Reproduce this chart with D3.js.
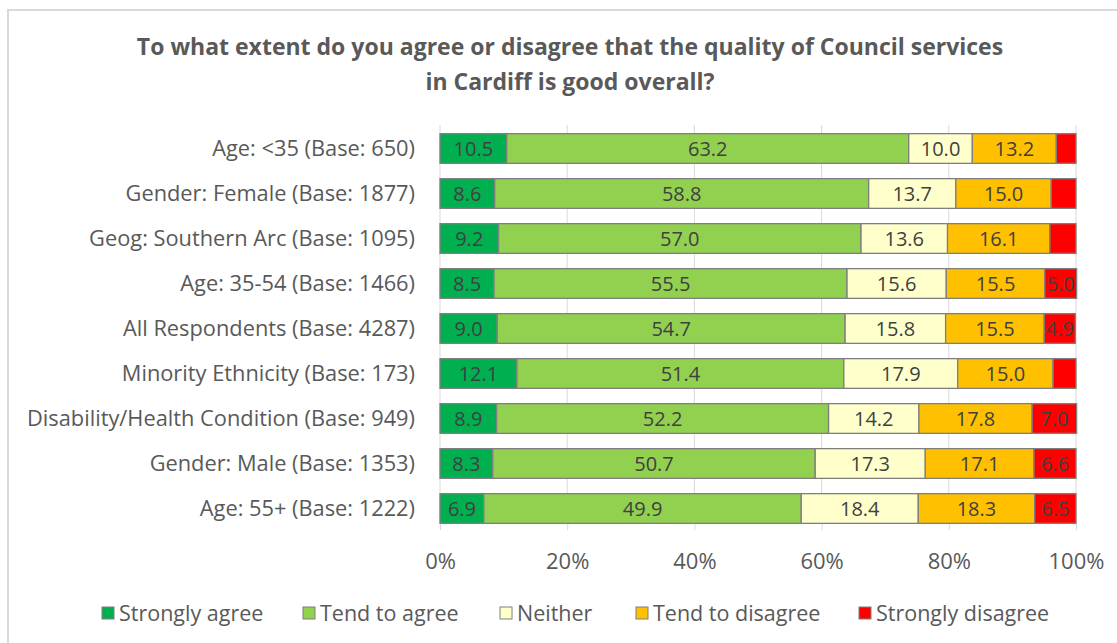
<!DOCTYPE html>
<html>
<head>
<meta charset="utf-8">
<script src="https://cdn.jsdelivr.net/npm/d3@7"></script>
<style>
  body { margin: 0; background: #fff; }
  text { font-family: "Open Sans", "Noto Sans", sans-serif; }
</style>
</head>
<body>
<div id="chart"></div>
<script>
// data
var groups = ["Age: <35 (Base: 650)", "Gender: Female (Base: 1877)", "Geog: Southern Arc (Base: 1095)",
  "Age: 35-54 (Base: 1466)", "All Respondents (Base: 4287)", "Minority Ethnicity (Base: 173)",
  "Disability/Health Condition (Base: 949)", "Gender: Male (Base: 1353)", "Age: 55+ (Base: 1222)"];
var seriesNames = ["Strongly agree", "Tend to agree", "Neither", "Tend to disagree", "Strongly disagree"];
var stronglyAgree    = [10.5, 8.6, 9.2, 8.5, 9.0, 12.1, 8.9, 8.3, 6.9];
var tendToAgree      = [63.2, 58.8, 57.0, 55.5, 54.7, 51.4, 52.2, 50.7, 49.9];
var neither          = [10.0, 13.7, 13.6, 15.6, 15.8, 17.9, 14.2, 17.3, 18.4];
var tendToDisagree   = [13.2, 15.0, 16.1, 15.5, 15.5, 15.0, 17.8, 17.1, 18.3];
var stronglyDisagree = [3.1, 3.9, 4.1, 5.0, 4.9, 3.6, 7.0, 6.6, 6.5];
var xTicks = [0, 20, 40, 60, 80, 100];
var colors = ["#00B050", "#92D050", "#FFFFCC", "#FFC000", "#FF0000"];

var W = 1117, H = 643;
var plotLeft = 440, plotRight = 1076, plotTop = 126, plotBottom = 531, axisY = 524;

var svg = d3.select("#chart").append("svg")
  .attr("width", W).attr("height", H);

// outer chart border
svg.append("rect").attr("x", 8).attr("y", 10).attr("width", W + 20).attr("height", H + 20)
  .attr("fill", "none").attr("stroke", "#d9d9d9").attr("stroke-width", 2);

// title
svg.append("text").attr("x", 570).attr("y", 55).attr("text-anchor", "middle")
  .style("font-size", "23px").style("font-weight", "bold").style("fill", "#595959")
  .text("To what extent do you agree or disagree that the quality of Council services");
svg.append("text").attr("x", 570).attr("y", 90).attr("text-anchor", "middle")
  .style("font-size", "23px").style("font-weight", "bold").style("fill", "#595959")
  .text("in Cardiff is good overall?");

var x = d3.scaleLinear().domain([0, 100]).range([plotLeft, plotRight]);
var y = d3.scaleBand().domain(groups).range([plotTop, plotBottom]).paddingInner(0.34).paddingOuter(0.17);

// gridlines
svg.selectAll(".grid").data(xTicks).enter().append("line")
  .attr("x1", function(d) { return x(d); }).attr("x2", function(d) { return x(d); })
  .attr("y1", plotTop - 1).attr("y2", axisY)
  .attr("stroke", "#d9d9d9").attr("stroke-width", 1);

// x axis
var xAxis = svg.append("g").attr("transform", "translate(0," + axisY + ")")
  .call(d3.axisBottom(x).tickValues(xTicks).tickSize(6).tickPadding(23).tickFormat(function(d) { return d + "%"; }));
xAxis.select(".domain").remove();
xAxis.selectAll(".tick line").attr("stroke", "#d9d9d9");
xAxis.selectAll("text").style("font-size", "22px").style("fill", "#595959")
  .style("font-family", "'Open Sans', sans-serif");

// category labels
svg.selectAll(".cat").data(groups).enter().append("text")
  .attr("x", 415).attr("y", function(d) { return y(d) + y.bandwidth() / 2; })
  .attr("dy", "0.35em").attr("text-anchor", "end")
  .style("font-size", "21.8px").style("fill", "#595959")
  .text(function(d) { return d; });

// stack
var table = groups.map(function(name, i) {
  return {name: name, s0: stronglyAgree[i], s1: tendToAgree[i], s2: neither[i], s3: tendToDisagree[i], s4: stronglyDisagree[i]};
});
var stack = d3.stack().keys(["s0", "s1", "s2", "s3", "s4"])(table);

var layers = svg.selectAll(".layer").data(stack).enter().append("g")
  .attr("fill", function(d, i) { return colors[i]; });

layers.selectAll("rect").data(function(d) { return d; }).enter().append("rect")
  .attr("x", function(d) { return x(d[0]); })
  .attr("width", function(d) { return x(d[1]) - x(d[0]); })
  .attr("y", function(d) { return y(d.data.name); })
  .attr("height", y.bandwidth())
  .attr("stroke", "#7f7f7f").attr("stroke-width", 1.3);

layers.selectAll("text").data(function(d) { return d; }).enter()
  .filter(function(d) { return d[1] - d[0] >= 4.5; })
  .append("text")
  .attr("x", function(d) { return (x(d[0]) + x(d[1])) / 2; })
  .attr("y", function(d) { return y(d.data.name) + y.bandwidth() / 2; })
  .attr("dy", "0.36em").attr("text-anchor", "middle")
  .style("font-size", "20px").style("fill", "#404040")
  .text(function(d) { return (d[1] - d[0]).toFixed(1); });

// legend
var legendX = [102, 303, 500, 636, 859];
var legend = svg.selectAll(".leg").data(seriesNames).enter().append("g")
  .attr("transform", function(d, i) { return "translate(" + legendX[i] + ",613)"; });
legend.append("rect").attr("x", 0).attr("y", -6).attr("width", 12).attr("height", 12)
  .attr("fill", function(d, i) { return colors[i]; }).attr("stroke", "#7f7f7f");
legend.append("text").attr("x", 17).attr("y", 0).attr("dy", "0.35em")
  .style("font-size", "21.5px").style("fill", "#595959")
  .text(function(d) { return d; });
</script>
</body>
</html>
